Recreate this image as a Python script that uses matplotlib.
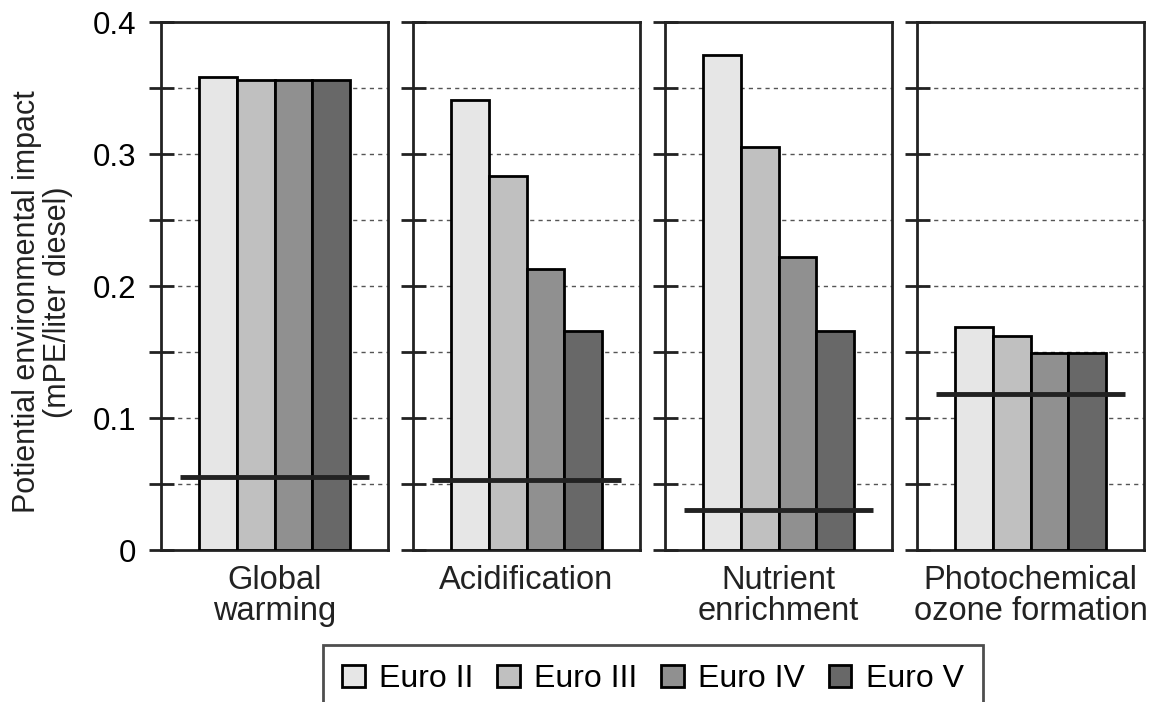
import numpy as np
import matplotlib.pyplot as plt

plt.rcParams['font.family'] = ['Liberation Sans', 'DejaVu Sans']

categories = ['Global\nwarming', 'Acidification', 'Nutrient\nenrichment',
              'Photochemical\nozone formation']
standards = ['Euro II', 'Euro III', 'Euro IV', 'Euro V']
values = [
    [0.358, 0.356, 0.356, 0.356],
    [0.341, 0.283, 0.213, 0.166],
    [0.375, 0.305, 0.222, 0.166],
    [0.169, 0.162, 0.149, 0.149],
]
reference_lines = [0.055, 0.053, 0.030, 0.118]
colors = ['#e6e6e6', '#c0c0c0', '#909090', '#686868']

fig = plt.figure(figsize=(11.56, 7.02), dpi=100)

W, H = 1156.0, 702.0
lefts = [161, 413, 665, 917]
pw = 227
bottom_px, top_px = 550, 22

x = np.arange(len(standards))
for i, cat in enumerate(categories):
    ax = fig.add_axes([lefts[i] / W, (H - bottom_px) / H, pw / W,
                       (bottom_px - top_px) / H])
    bars = ax.bar(x, values[i], width=1.0, color=colors,
                  edgecolor='black', linewidth=2, zorder=3)
    ax.plot([-1, 4], [reference_lines[i]] * 2, color='#222222', lw=3.5,
            solid_capstyle='butt', zorder=4)
    ax.set_xlim(-1.5, 4.5)
    ax.set_ylim(0, 0.4)
    ax.set_xticks([])
    ax.set_yticks(np.arange(0, 0.401, 0.05))
    for y in np.arange(0.05, 0.36, 0.05):
        ax.axhline(y, color='#555555', lw=1, ls=(0, (3, 3)), zorder=1)
    ax.tick_params(axis='y', direction='inout', length=18, width=2,
                   color='#222222', labelsize=22.5, pad=9)
    if i == 0:
        ax.set_yticklabels(['0', '', '0.1', '', '0.2', '', '0.3', '', '0.4'])
        ax.set_ylabel('Potiential environmental impact\n(mPE/liter diesel)',
                      fontsize=22, labelpad=14, color='#222222',
                      linespacing=1.05)
        ax.yaxis.label.set_y(0.47)
    else:
        ax.set_yticklabels([])
    for s in ax.spines.values():
        s.set_linewidth(2)
        s.set_color('#222222')
    ax.set_xlabel(cat, fontsize=23.5, labelpad=10.5, linespacing=1.0,
                  color='#222222')

leg = fig.legend(bars, standards, loc='upper center',
                 bbox_to_anchor=(653 / W, 1 - 645 / H), ncol=4, fontsize=23,
                 frameon=True, fancybox=False, edgecolor='#222222',
                 handlelength=0.7, handleheight=0.7, handletextpad=0.45,
                 columnspacing=0.75, borderpad=0.6, borderaxespad=0)
leg.get_frame().set_linewidth(2)
for p in leg.get_patches():
    p.set_linewidth(2)

fig.savefig('out.png', dpi=100)
